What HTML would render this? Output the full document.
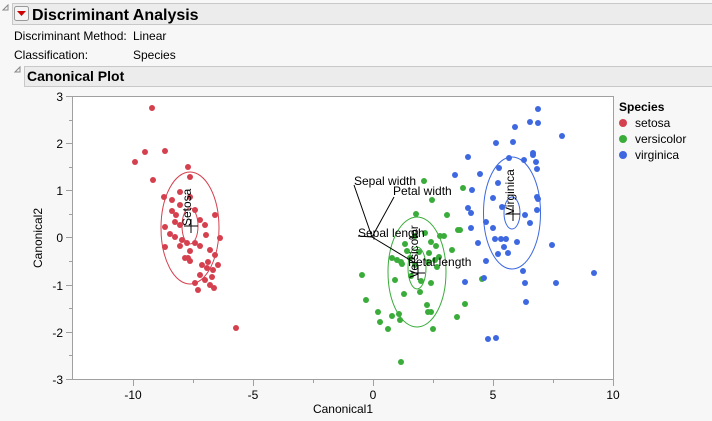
<!DOCTYPE html><html><head><style>
body{margin:0;width:712px;height:421px;background:#f7f7f7;font-family:"Liberation Sans",sans-serif;overflow:hidden;position:relative}
.t{position:absolute;font-size:12px;color:#000;white-space:nowrap}
</style></head><body>
<svg width="712" height="421" style="position:absolute;left:0;top:0" font-family="Liberation Sans, sans-serif">
<rect x="12.5" y="3.5" width="700" height="21" fill="#ececec" stroke="#c8c8c8"/>
<path d="M3 10 L8 5 L8 10Z" fill="none" stroke="#888"/>
<rect x="14.5" y="6.5" width="14" height="14" rx="2" fill="#f4f4f4" stroke="#999"/>
<path d="M17 11 L26 11 L21.5 16Z" fill="#c00"/>
<text x="32" y="20" font-size="16" font-weight="bold">Discriminant Analysis</text>
<text x="14" y="40" font-size="12">Discriminant Method:</text><text x="133" y="40" font-size="12">Linear</text>
<text x="14" y="59" font-size="12">Classification:</text><text x="133" y="59" font-size="12">Species</text>
<path d="M15 72 L20 67 L20 72Z" fill="none" stroke="#888"/>
<rect x="24.5" y="66.5" width="688" height="20" fill="#ececec" stroke="#c8c8c8"/>
<text x="27" y="81" font-size="14" font-weight="bold">Canonical Plot</text>
<rect x="72.5" y="96.5" width="541" height="283" fill="#fff" stroke="#a0a0a0"/>
<g stroke="#a0a0a0">
<line x1="66" y1="96.5" x2="72" y2="96.5"/><line x1="66" y1="143.5" x2="72" y2="143.5"/><line x1="66" y1="190.5" x2="72" y2="190.5"/><line x1="66" y1="237.5" x2="72" y2="237.5"/><line x1="66" y1="285.5" x2="72" y2="285.5"/><line x1="66" y1="332.5" x2="72" y2="332.5"/><line x1="66" y1="379.5" x2="72" y2="379.5"/>
<line x1="69" y1="120.5" x2="72" y2="120.5"/><line x1="69" y1="167.5" x2="72" y2="167.5"/><line x1="69" y1="214.5" x2="72" y2="214.5"/><line x1="69" y1="261.5" x2="72" y2="261.5"/><line x1="69" y1="308.5" x2="72" y2="308.5"/><line x1="69" y1="355.5" x2="72" y2="355.5"/>
<line x1="133.5" y1="380" x2="133.5" y2="386"/><line x1="253.5" y1="380" x2="253.5" y2="386"/><line x1="373.5" y1="380" x2="373.5" y2="386"/><line x1="493.5" y1="380" x2="493.5" y2="386"/><line x1="613.5" y1="380" x2="613.5" y2="386"/>
<line x1="193.5" y1="380" x2="193.5" y2="383"/><line x1="313.5" y1="380" x2="313.5" y2="383"/><line x1="433.5" y1="380" x2="433.5" y2="383"/><line x1="553.5" y1="380" x2="553.5" y2="383"/>
</g>
<g font-size="12" text-anchor="end">
<text x="63" y="101">3</text><text x="63" y="148">2</text><text x="63" y="195">1</text><text x="63" y="242">0</text><text x="63" y="290">-1</text><text x="63" y="337">-2</text><text x="63" y="384">-3</text>
</g>
<g font-size="12" text-anchor="middle">
<text x="133" y="399">-10</text><text x="253" y="399">-5</text><text x="373" y="399">0</text><text x="493" y="399">5</text><text x="613" y="399">10</text>
<text x="343" y="413">Canonical1</text>
<text transform="translate(42,238) rotate(-90)">Canonical2</text>
</g>
<g fill="#d5404f">
<circle cx="152" cy="108" r="3"/><circle cx="145" cy="152" r="3"/><circle cx="165" cy="151" r="3"/><circle cx="135" cy="162" r="3"/><circle cx="153" cy="180" r="3"/><circle cx="188" cy="167" r="3"/><circle cx="190" cy="177" r="3"/><circle cx="180" cy="192" r="3"/><circle cx="164" cy="197" r="3"/><circle cx="180" cy="205" r="3"/><circle cx="172" cy="211" r="3"/><circle cx="175" cy="222" r="3"/><circle cx="165" cy="227" r="3"/><circle cx="180" cy="225" r="3"/><circle cx="170" cy="234" r="3"/><circle cx="175" cy="237" r="3"/><circle cx="182" cy="240" r="3"/><circle cx="165" cy="247" r="3"/><circle cx="180" cy="246" r="3"/><circle cx="190" cy="251" r="3"/><circle cx="188" cy="258" r="3"/><circle cx="190" cy="261" r="3"/><circle cx="200" cy="246" r="3"/><circle cx="205" cy="225" r="3"/><circle cx="215" cy="215" r="3"/><circle cx="220" cy="238" r="3"/><circle cx="195" cy="210" r="3"/><circle cx="200" cy="220" r="3"/><circle cx="200" cy="275" r="3"/><circle cx="205" cy="280" r="3"/><circle cx="210" cy="285" r="3"/><circle cx="195" cy="283" r="3"/><circle cx="198" cy="290" r="3"/><circle cx="213" cy="270" r="3"/><circle cx="208" cy="262" r="3"/><circle cx="210" cy="250" r="3"/><circle cx="215" cy="255" r="3"/><circle cx="190" cy="197" r="3"/><circle cx="187" cy="243" r="3"/><circle cx="202" cy="265" r="3"/><circle cx="207" cy="268" r="3"/><circle cx="185" cy="258" r="3"/><circle cx="195" cy="243" r="3"/><circle cx="236" cy="328" r="3"/><circle cx="212" cy="277" r="3"/><circle cx="214" cy="288" r="3"/><circle cx="176" cy="215" r="3"/><circle cx="206" cy="235" r="3"/><circle cx="172" cy="200" r="3"/><circle cx="218" cy="265" r="3"/>
</g>
<g fill="#3aac3a">
<circle cx="424" cy="181" r="3"/><circle cx="463" cy="188" r="3"/><circle cx="432" cy="200" r="3"/><circle cx="416" cy="214" r="3"/><circle cx="425" cy="233" r="3"/><circle cx="440" cy="236" r="3"/><circle cx="444" cy="236" r="3"/><circle cx="458" cy="230" r="3"/><circle cx="431" cy="242" r="3"/><circle cx="436" cy="246" r="3"/><circle cx="405" cy="244" r="3"/><circle cx="407" cy="251" r="3"/><circle cx="429" cy="253" r="3"/><circle cx="419" cy="252" r="3"/><circle cx="397" cy="260" r="3"/><circle cx="401" cy="262" r="3"/><circle cx="435" cy="260" r="3"/><circle cx="439" cy="257" r="3"/><circle cx="428" cy="262" r="3"/><circle cx="437" cy="267" r="3"/><circle cx="362" cy="275" r="3"/><circle cx="395" cy="280" r="3"/><circle cx="411" cy="276" r="3"/><circle cx="421" cy="281" r="3"/><circle cx="431" cy="283" r="3"/><circle cx="404" cy="294" r="3"/><circle cx="420" cy="292" r="3"/><circle cx="366" cy="300" r="3"/><circle cx="415" cy="236" r="3"/><circle cx="482" cy="279" r="3"/><circle cx="465" cy="304" r="3"/><circle cx="427" cy="305" r="3"/><circle cx="378" cy="312" r="3"/><circle cx="399" cy="314" r="3"/><circle cx="428" cy="312" r="3"/><circle cx="431" cy="312" r="3"/><circle cx="392" cy="316" r="3"/><circle cx="380" cy="322" r="3"/><circle cx="400" cy="320" r="3"/><circle cx="457" cy="317" r="3"/><circle cx="388" cy="329" r="3"/><circle cx="433" cy="329" r="3"/><circle cx="401" cy="362" r="3"/><circle cx="460" cy="230" r="3"/><circle cx="410" cy="258" r="3"/><circle cx="415" cy="265" r="3"/><circle cx="402" cy="264" r="3"/><circle cx="447" cy="215" r="3"/><circle cx="392" cy="258" r="3"/><circle cx="452" cy="250" r="3"/>
</g>
<g fill="#3d68e0">
<circle cx="538" cy="109" r="3"/><circle cx="530" cy="122" r="3"/><circle cx="538" cy="123" r="3"/><circle cx="515" cy="127" r="3"/><circle cx="562" cy="136" r="3"/><circle cx="496" cy="143" r="3"/><circle cx="513" cy="142" r="3"/><circle cx="533" cy="153" r="3"/><circle cx="533" cy="155" r="3"/><circle cx="509" cy="158" r="3"/><circle cx="524" cy="160" r="3"/><circle cx="536" cy="162" r="3"/><circle cx="537" cy="169" r="3"/><circle cx="499" cy="168" r="3"/><circle cx="480" cy="174" r="3"/><circle cx="498" cy="183" r="3"/><circle cx="493" cy="198" r="3"/><circle cx="537" cy="197" r="3"/><circle cx="538" cy="199" r="3"/><circle cx="502" cy="207" r="3"/><circle cx="468" cy="208" r="3"/><circle cx="471" cy="213" r="3"/><circle cx="537" cy="210" r="3"/><circle cx="525" cy="215" r="3"/><circle cx="486" cy="222" r="3"/><circle cx="530" cy="223" r="3"/><circle cx="471" cy="228" r="3"/><circle cx="493" cy="228" r="3"/><circle cx="495" cy="239" r="3"/><circle cx="501" cy="239" r="3"/><circle cx="506" cy="239" r="3"/><circle cx="517" cy="242" r="3"/><circle cx="478" cy="243" r="3"/><circle cx="504" cy="247" r="3"/><circle cx="552" cy="245" r="3"/><circle cx="508" cy="253" r="3"/><circle cx="498" cy="254" r="3"/><circle cx="486" cy="261" r="3"/><circle cx="523" cy="271" r="3"/><circle cx="594" cy="273" r="3"/><circle cx="525" cy="283" r="3"/><circle cx="556" cy="283" r="3"/><circle cx="465" cy="282" r="3"/><circle cx="484" cy="278" r="3"/><circle cx="526" cy="302" r="3"/><circle cx="488" cy="339" r="3"/><circle cx="496" cy="338" r="3"/><circle cx="468" cy="157" r="3"/><circle cx="472" cy="190" r="3"/><circle cx="455" cy="175" r="3"/>
</g>
<g fill="none">
<ellipse cx="190" cy="228" rx="29" ry="56" stroke="#d5404f"/><ellipse cx="190" cy="226" rx="8" ry="18" stroke="#d5404f"/>
<ellipse cx="417" cy="272" rx="29" ry="55" stroke="#3aac3a"/><ellipse cx="417" cy="268" rx="9" ry="21" stroke="#3aac3a"/>
<ellipse cx="512" cy="213" rx="28.5" ry="56" stroke="#3d68e0"/><ellipse cx="512" cy="213" rx="8" ry="16" stroke="#3d68e0"/>
</g>
<g stroke="#000" stroke-width="1">
<path d="M184 226h14M191 219v14"/><path d="M411 273h14M418 266v14"/><path d="M506 214h14M513 207v14"/>
<path d="M372 237L354 185M372 237L394 197M372 237L358 236M372 237L415 263"/>
</g>
<g font-size="12">
<text transform="translate(191,226) rotate(-90)">Setosa</text>
<text transform="translate(418,278) rotate(-90)">Versicolor</text>
<text transform="translate(514,215) rotate(-90)">Virginica</text>
<text x="354" y="185">Sepal width</text><text x="393" y="195">Petal width</text>
<text x="358" y="237">Sepal length</text><text x="408" y="266">Petal length</text>
<text x="619" y="111" font-weight="bold">Species</text>
<text x="635" y="127">setosa</text><text x="635" y="143">versicolor</text><text x="635" y="159">virginica</text>
</g>
<circle cx="623" cy="123" r="4" fill="#d5404f"/><circle cx="623" cy="139" r="4" fill="#3aac3a"/><circle cx="623" cy="155" r="4" fill="#3d68e0"/>
</svg>
</body></html>
